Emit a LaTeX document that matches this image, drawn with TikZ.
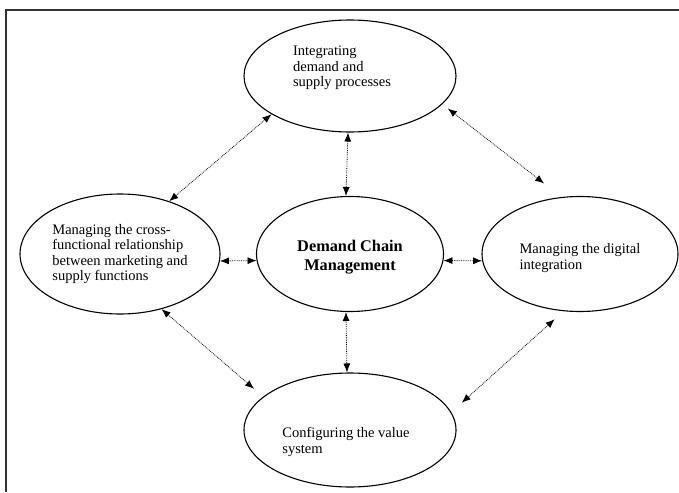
\documentclass[tikz,border=0pt]{standalone}
\usepackage{fontspec}
\setmainfont{Liberation Serif}
\usetikzlibrary{shapes.geometric}
\usetikzlibrary{arrows.meta}
\tikzset{>={Latex[length=9pt,width=7pt]}}

\begin{document}
\begin{tikzpicture}[x=1pt,y=-1pt]
                % pixel grid, y grows downward; D = demand chain hub in the middle
                \tikzstyle{blob}=[ellipse, draw=black, line width=1.1pt, inner sep=0pt, node distance=230pt]
                \tikzstyle{txt}=[align=left, inner sep=0pt, font=\fontsize{14.5}{15.5}\selectfont]
                \tikzstyle{every edge}=[draw, black, <->, densely dotted, line width=0.8pt]
                \useasboundingbox (0,0) rectangle (679,492);
                \draw[line width=1.6pt, black!80] (679,10) -- (6,10) -- (6,492);
                \node[blob, minimum width=187pt, minimum height=115pt] (D) at (350,254) {};
                \node[blob, minimum width=212pt, minimum height=112pt] (I) [above of = D, node distance=178pt] {};
                \node[blob, minimum width=200pt, minimum height=120pt] (M) [left of = D] {};
                \node[blob, minimum width=196pt, minimum height=115pt] (G) [right of = D] {};
                \node[blob, minimum width=212pt, minimum height=114pt] (C) [below of = D, node distance=176pt] {};
                \node[txt, align=center, font=\bfseries\fontsize{16.3}{19.5}\selectfont] (Dt) at ([yshift=-3pt]D) {Demand Chain\\Management};
                \node[txt] (It) at ([xshift=-8pt, yshift=8pt]I) {Integrating\\demand and\\supply processes};
                \node[txt] (Mt) at (M) {Managing the cross-\\functional relationship\\between marketing and\\supply functions};
                \node[txt] (Gt) at ([yshift=-4pt]G) {Managing the digital\\integration};
                \node[txt] (Ct) at ([xshift=-4pt, yshift=-12pt]C) {Configuring the value\\system};
                \draw (M.47) edge (I.206);
                \draw (I.-17) edge[shorten <=7pt, shorten >=22pt] (G.108);
                \draw (I.268) edge (D.94);
                \draw (M.-4) edge (D.184);
                \draw (D.-4) edge (G.184);
                \draw (D.266) edge (C.93);
                \draw (M.-53) edge[shorten >=12pt] (C.159);
                \draw (G.-106) edge[shorten <=12pt, shorten >=14pt] (C.10);
        \end{tikzpicture}
\end{document}
